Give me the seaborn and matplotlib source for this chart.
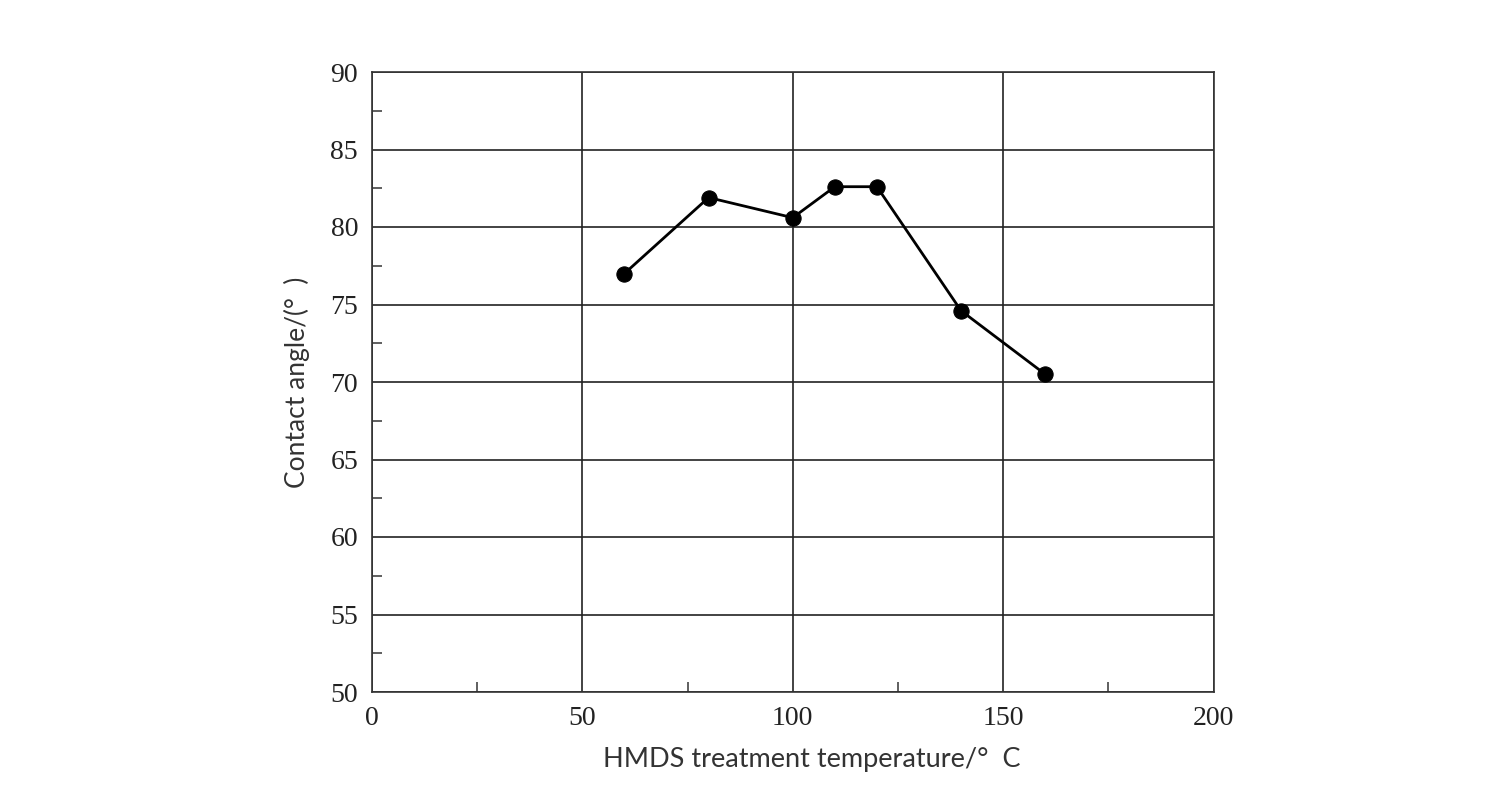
import pandas as pd
import seaborn as sns
import matplotlib.pyplot as plt
from matplotlib.ticker import MultipleLocator

# Data
temperature = [60, 80, 100, 110, 120, 140, 160]
contact_angle = [77.0, 81.9, 80.6, 82.6, 82.6, 74.6, 70.5]

x_ticks = [0, 50, 100, 150, 200]
y_ticks = [50, 55, 60, 65, 70, 75, 80, 85, 90]

df = pd.DataFrame({"temperature": temperature, "contact_angle": contact_angle})

sns.set_style("white")

fig = plt.figure(figsize=(15, 8), dpi=100)
ax = fig.add_axes([0.248, 0.135, 0.561, 0.775])

sns.lineplot(
    data=df,
    x="temperature",
    y="contact_angle",
    marker="o",
    markersize=11,
    color="black",
    linewidth=2,
    markeredgecolor="black",
    ax=ax,
)

ax.set_xlim(0, 200)
ax.set_ylim(50, 90)
ax.set_xticks(x_ticks)
ax.set_yticks(y_ticks)
ax.xaxis.set_minor_locator(MultipleLocator(25))
ax.yaxis.set_minor_locator(MultipleLocator(2.5))

# Grid on majors only, minor ticks point inward
ax.grid(True, which="major", color="#222222", linewidth=1.2)
ax.tick_params(which="both", bottom=True, left=True)
ax.tick_params(which="major", length=0, pad=10, labelsize=20, labelcolor="#222222")
ax.tick_params(which="minor", direction="in", length=7, width=1.2, color="#444444")
for label in ax.get_xticklabels() + ax.get_yticklabels():
    label.set_family("Liberation Serif")

for spine in ax.spines.values():
    spine.set_color("#333333")
    spine.set_linewidth(1.2)

ax.set_xlabel("HMDS treatment temperature/°  C", family="Lato",
              fontsize=19.5, color="#333333")
ax.xaxis.set_label_coords(0.523, -0.088)
ax.set_ylabel("Contact angle/(°  )", family="Lato",
              fontsize=19, color="#333333", labelpad=15)

fig.savefig("out.png", dpi=100, facecolor="white")
